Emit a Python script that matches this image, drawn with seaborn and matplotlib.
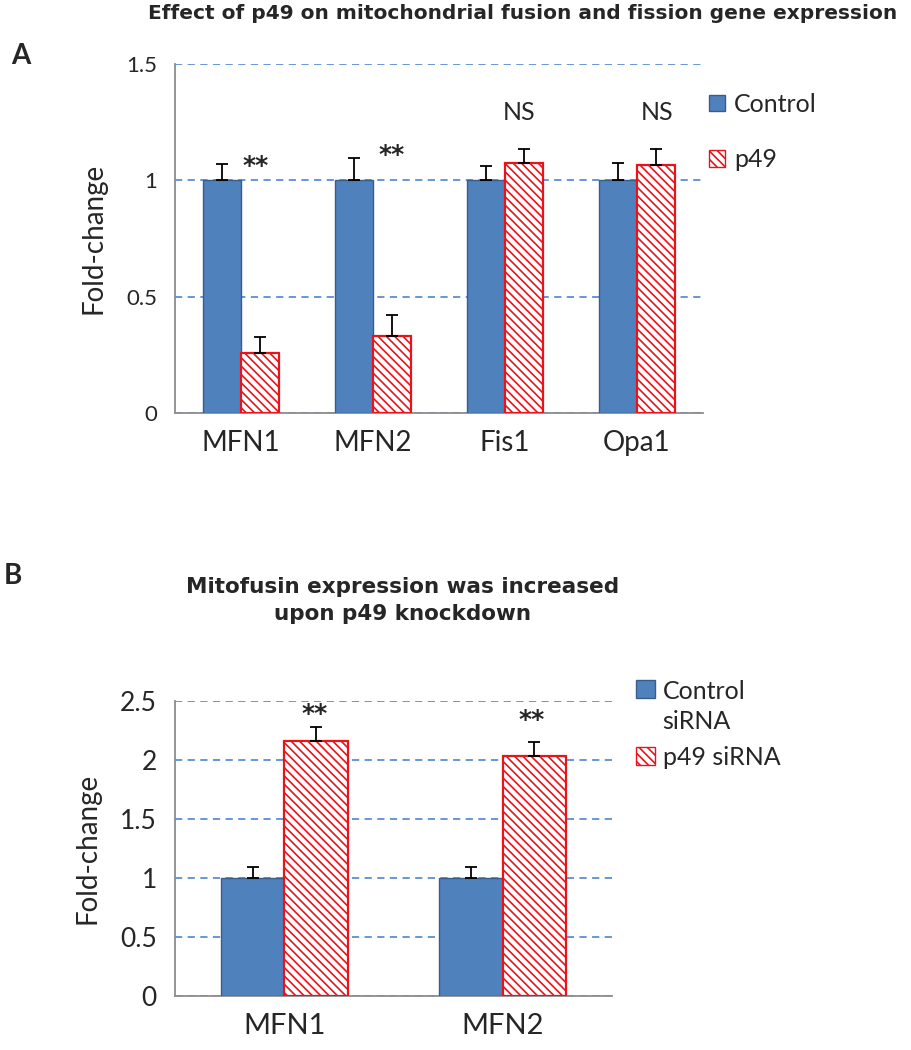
import numpy as np
import pandas as pd
import matplotlib
matplotlib.use("Agg")
import matplotlib.pyplot as plt
import matplotlib.ticker as mticker
from matplotlib.patches import Patch, Rectangle
from matplotlib.legend_handler import HandlerPatch
import seaborn as sns

# panel A data
genes_a = ["MFN1", "MFN2", "Fis1", "Opa1"]
ctrl_a = [1.0, 1.0, 1.0, 1.0]
ctrl_err_a = [0.07, 0.095, 0.06, 0.073]
p49_a = [0.257, 0.33, 1.073, 1.064]
p49_err_a = [0.07, 0.09, 0.06, 0.07]
sig_a = ["**", "**", "NS", "NS"]

# panel B data
genes_b = ["MFN1", "MFN2"]
ctrl_b = [1.0, 1.0]
ctrl_err_b = [0.09, 0.09]
p49_b = [2.16, 2.03]
p49_err_b = [0.12, 0.12]
sig_b = ["**", "**"]

BLUE = "#4F81BD"
BLUE_EDGE = "#385D8A"
RED = "#E8141B"
GRID = "#5B8ED6"
AXIS = "#8C8C8C"
HATCH = "\\\\\\\\"

sns.set_style("white")
plt.rcParams["font.family"] = ["Lato", "DejaVu Sans"]
plt.rcParams["hatch.color"] = RED
plt.rcParams["hatch.linewidth"] = 1.2


def draw_panel(ax, genes, ctrl, ctrl_err, p49, p49_err, width,
               ymax, groups, xt_size, yt_size):
    df = pd.DataFrame({
        "gene": genes * 2,
        "value": ctrl + p49,
        "group": [groups[0]] * len(genes) + [groups[1]] * len(genes),
    })
    sns.barplot(data=df, x="gene", y="value", hue="group", order=genes,
                hue_order=groups, palette=[BLUE, "white"], width=width,
                saturation=1, errorbar=None, legend=False, ax=ax, zorder=3)
    c_bars, p_bars = ax.containers[0], ax.containers[1]
    for b in c_bars:
        b.set_edgecolor(BLUE_EDGE)
        b.set_linewidth(1.0)
    for b in p_bars:
        b.set_facecolor("white")
        b.set_edgecolor(RED)
        b.set_hatch(HATCH)
        b.set_linewidth(1.6)
    for bars, vals, errs in [(c_bars, ctrl, ctrl_err), (p_bars, p49, p49_err)]:
        xs = [b.get_x() + b.get_width() / 2 for b in bars]
        ax.errorbar(xs, vals, yerr=[np.zeros(len(errs)), errs], fmt="none",
                    ecolor="black", elinewidth=1.3, capsize=4, capthick=1.3,
                    zorder=4)

    ax.set_xlim(-0.5, len(genes) - 0.5)
    ax.set_ylim(0, ymax)
    ax.yaxis.set_major_locator(mticker.MultipleLocator(0.5))
    ax.yaxis.set_major_formatter(mticker.FuncFormatter(lambda v, p: f"{v:g}"))
    ax.yaxis.grid(True, linestyle=(0, (4, 3)), color=GRID, linewidth=1.3,
                  zorder=0)
    ax.set_axisbelow(True)
    ax.xaxis.grid(False)
    for s in ["top", "right"]:
        ax.spines[s].set_visible(False)
    for s in ["left", "bottom"]:
        ax.spines[s].set_color(AXIS)
        ax.spines[s].set_linewidth(1.3)
    ax.set_xticks(np.arange(-0.5, len(genes)), minor=True)
    ax.tick_params(axis="x", which="major", length=0, pad=12,
                   labelsize=xt_size)
    ax.tick_params(axis="x", which="minor", length=10, width=1.3,
                   color=AXIS, direction="out")
    ax.tick_params(axis="y", length=7, width=1.3, color=AXIS,
                   direction="out", labelsize=yt_size, pad=6)
    ax.set_xlabel("")
    ax.set_ylabel("Fold-change", fontsize=20, labelpad=14)


def raised_square(shift):
    def make(legend, orig_handle, xdescent, ydescent, width, height, fontsize):
        return Rectangle((-xdescent, -ydescent + shift), width, height)
    return HandlerPatch(patch_func=make)


fig = plt.figure(figsize=(9.12, 10.5), dpi=100)

# ---- panel A
ax_a = fig.add_axes([0.1919, 0.6067, 0.5789, 0.3324])
draw_panel(ax_a, genes_a, ctrl_a, ctrl_err_a, p49_a, p49_err_a, 0.57,
           1.5, ["Control", "p49"], 20, 16)
ann_a = [(0.11, 1.06), (1.14, 1.107), (2.11, 1.29), (3.15, 1.29)]
for (x, y), s in zip(ann_a, sig_a):
    if s == "**":
        ax_a.text(x, y, s, ha="center", va="center", fontsize=18,
                  fontweight="bold", family="DejaVu Sans")
    else:
        ax_a.text(x, y, s, ha="center", va="center", fontsize=18)

fig.text(0.573, 0.987, "Effect of p49 on mitochondrial fusion and fission gene expression",
         ha="center", va="center", fontsize=14.5, fontweight="bold",
         family="DejaVu Sans")
fig.text(0.012, 0.947, "A", ha="left", va="center", fontsize=20,
         fontweight="bold")

fig.legend(handles=[Patch(facecolor=BLUE, edgecolor=BLUE_EDGE),
                    Patch(facecolor="white", edgecolor=RED, hatch=HATCH)],
           labels=["Control", "p49"], loc="upper left",
           bbox_to_anchor=(0.753, 0.933), frameon=False, fontsize=18,
           handlelength=0.65, handleheight=0.65, handletextpad=0.35,
           labelspacing=1.3)

# ---- panel B
ax_b = fig.add_axes([0.1919, 0.0514, 0.4792, 0.281])
draw_panel(ax_b, genes_b, ctrl_b, ctrl_err_b, p49_b, p49_err_b, 0.58,
           2.5, ["Control\nsiRNA", "p49 siRNA"], 21, 19)
ann_b = [(0.14, 2.39), (1.13, 2.34)]
for (x, y), s in zip(ann_b, sig_b):
    ax_b.text(x, y, s, ha="center", va="center", fontsize=18,
              fontweight="bold", family="DejaVu Sans")

fig.text(0.441, 0.428, "Mitofusin expression was increased\nupon p49 knockdown",
         ha="center", va="center", fontsize=15.5, fontweight="bold",
         family="DejaVu Sans", linespacing=1.45)
fig.text(0.004, 0.451, "B", ha="left", va="center", fontsize=20,
         fontweight="bold")

h_ctrl = Patch(facecolor=BLUE, edgecolor=BLUE_EDGE)
h_p49 = Patch(facecolor="white", edgecolor=RED, hatch=HATCH)
leg_b = fig.legend(handles=[h_ctrl, h_p49],
                   labels=["Control\nsiRNA", "p49 siRNA"], loc="upper left",
                   bbox_to_anchor=(0.673, 0.374), frameon=False, fontsize=18,
                   handlelength=0.75, handleheight=0.75, handletextpad=0.3,
                   labelspacing=0.5,
                   handler_map={h_ctrl: raised_square(13)})
leg_b.get_texts()[0].set_linespacing(1.4)

fig.savefig("out.png", dpi=100)
